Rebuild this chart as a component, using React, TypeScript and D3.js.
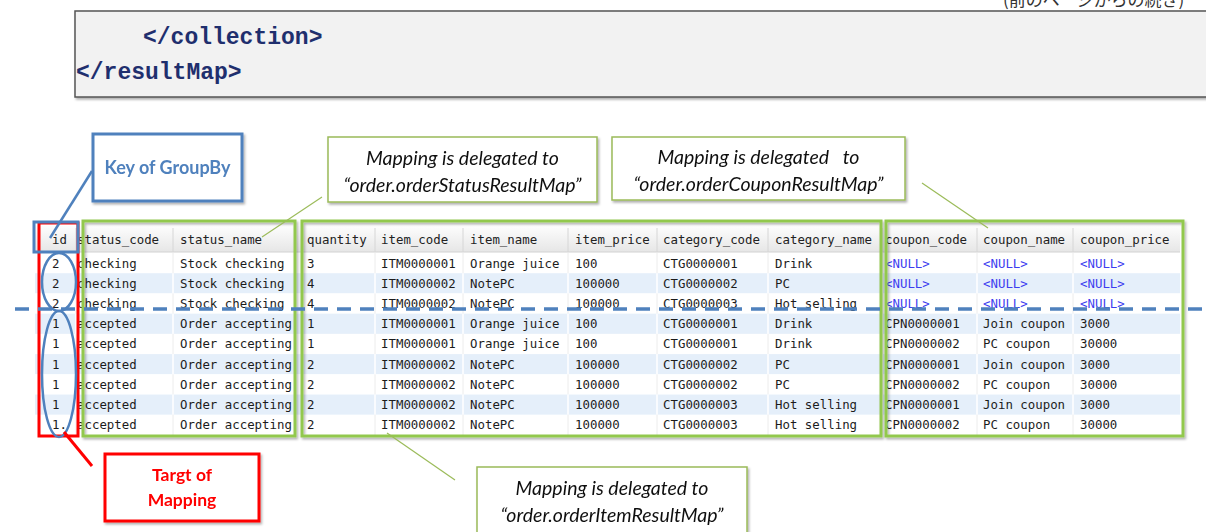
import React from 'react';
import * as d3 from 'd3';

// table columns and cell values, one array per column
const columns = ['id', 'status_code', 'status_name', 'quantity', 'item_code', 'item_name', 'item_price', 'category_code', 'category_name', 'coupon_code', 'coupon_name', 'coupon_price'];
const ids = ['2', '2', '2', '1', '1', '1', '1', '1', '1.'];
const statusCodes = ['checking', 'checking', 'checking', 'accepted', 'accepted', 'accepted', 'accepted', 'accepted', 'accepted'];
const statusNames = ['Stock checking', 'Stock checking', 'Stock checking', 'Order accepting', 'Order accepting', 'Order accepting', 'Order accepting', 'Order accepting', 'Order accepting'];
const quantities = ['3', '4', '4', '1', '1', '2', '2', '2', '2'];
const itemCodes = ['ITM0000001', 'ITM0000002', 'ITM0000002', 'ITM0000001', 'ITM0000001', 'ITM0000002', 'ITM0000002', 'ITM0000002', 'ITM0000002'];
const itemNames = ['Orange juice', 'NotePC', 'NotePC', 'Orange juice', 'Orange juice', 'NotePC', 'NotePC', 'NotePC', 'NotePC'];
const itemPrices = ['100', '100000', '100000', '100', '100', '100000', '100000', '100000', '100000'];
const categoryCodes = ['CTG0000001', 'CTG0000002', 'CTG0000003', 'CTG0000001', 'CTG0000001', 'CTG0000002', 'CTG0000002', 'CTG0000003', 'CTG0000003'];
const categoryNames = ['Drink', 'PC', 'Hot selling', 'Drink', 'Drink', 'PC', 'PC', 'Hot selling', 'Hot selling'];
const couponCodes = ['<NULL>', '<NULL>', '<NULL>', 'CPN0000001', 'CPN0000002', 'CPN0000001', 'CPN0000002', 'CPN0000001', 'CPN0000002'];
const couponNames = ['<NULL>', '<NULL>', '<NULL>', 'Join coupon', 'PC coupon', 'Join coupon', 'PC coupon', 'Join coupon', 'PC coupon'];
const couponPrices = ['<NULL>', '<NULL>', '<NULL>', '3000', '30000', '3000', '30000', '3000', '30000'];

const cells = [ids, statusCodes, statusNames, quantities, itemCodes, itemNames, itemPrices, categoryCodes, categoryNames, couponCodes, couponNames, couponPrices];

// layout of the table (pixel edges of each column)
const colEdges = [35, 76, 173, 302, 375, 463, 568, 657, 768, 882, 977, 1073, 1180];
const textX = [52, 77, 180, 307, 381, 470, 575, 663, 775, 885, 983, 1080];

const mono = '"DejaVu Sans Mono", "Liberation Mono", monospace';
const sans = 'Lato, "Open Sans", sans-serif';
const blue = '#4f81bd';
const green = '#92c84e';
const calloutGreen = '#9bbb59';

export default function App() {
  const W = 1206, H = 532;
  const headerTop = 226, headerBottom = 252;
  const y = d3.scaleBand<number>().domain(d3.range(ids.length)).range([headerBottom + 1, 435]);
  const rh = y.bandwidth();
  const xText = d3.scaleOrdinal<string, number>().domain(columns).range(textX);

  const callout = (x: number, yy: number, w: number, h: number, lines: string[], color: string, opts: any = {}) => (
    <g filter="url(#shadow)">
      <rect x={x} y={yy} width={w} height={h} fill="white" stroke={color} strokeWidth={opts.sw ?? 1.5} />
      {lines.map((t, i) => (
        <text key={i} x={x + w / 2} y={yy + opts.first + i * opts.lh} textAnchor="middle"
          fontFamily={sans} fontSize={opts.fs ?? 19.5} fontStyle={opts.italic ? 'italic' : 'normal'}
          fontWeight={opts.bold ? 700 : 400} fill={opts.fill ?? '#111'} style={{ whiteSpace: 'pre' }}>{t}</text>
      ))}
    </g>
  );

  return (
    <svg width={W} height={H} style={{ position: 'absolute', left: 0, top: 0, background: 'white' }}>
      <defs>
        <filter id="shadow" x="-10%" y="-10%" width="130%" height="140%">
          <feDropShadow dx="1.5" dy="2" stdDeviation="1.2" floodColor="#000" floodOpacity="0.3" />
        </filter>
        <linearGradient id="hdr" x1="0" x2="0" y1="0" y2="1">
          <stop offset="0" stopColor="#fdfdfd" />
          <stop offset="1" stopColor="#e6e6e6" />
        </linearGradient>
      </defs>

      {/* continuation note, clipped at the top */}
      <text x={1003} y={6} fontFamily='"Noto Sans CJK JP", sans-serif' fontSize={17} fill="#333">(前のページからの続き)</text>

      {/* code box */}
      <rect x={75} y={11} width={1200} height={86} fill="#f2f2f2" stroke="#555" strokeWidth={1.5} filter="url(#shadow)" />
      <text x={143} y={44} fontFamily='"Liberation Mono", "Courier New", monospace' fontWeight={700} fontSize={23} fill="#1f2f6e">{'</collection>'}</text>
      <text x={76} y={79} fontFamily='"Liberation Mono", "Courier New", monospace' fontWeight={700} fontSize={23} fill="#1f2f6e">{'</resultMap>'}</text>

      {/* table header */}
      <rect x={colEdges[0]} y={headerTop} width={colEdges[colEdges.length - 1] - colEdges[0]} height={headerBottom - headerTop} fill="url(#hdr)" />
      <line x1={colEdges[0]} x2={colEdges[colEdges.length - 1]} y1={headerBottom} y2={headerBottom} stroke="#d2d2d2" />
      {colEdges.slice(1, -1).map((cx, i) => (
        <line key={i} x1={cx} x2={cx} y1={headerTop + 2} y2={headerBottom} stroke="#d6d6d6" />
      ))}
      {columns.map(c => (
        <text key={c} x={xText(c)} y={244} fontFamily={mono} fontSize={12.4} fill="#222">{c}</text>
      ))}

      {/* table rows */}
      {ids.map((_, r) => {
        const odd = r % 2 === 1;
        const ry = y(r)!;
        return (
          <g key={r}>
            <rect x={colEdges[0]} y={ry} width={colEdges[colEdges.length - 1] - colEdges[0]} height={rh} fill={odd ? '#e5effa' : '#ffffff'} />
            {colEdges.slice(1, -1).map((cx, i) => (
              <line key={i} x1={cx} x2={cx} y1={ry} y2={ry + rh} stroke={odd ? '#ffffff' : '#ececec'} strokeWidth={odd ? 1.5 : 1} />
            ))}
            {columns.map((c, ci) => {
              const v = cells[ci][r];
              return (
                <text key={c} x={xText(c)} y={ry + 14.5} fontFamily={mono} fontSize={12.4}
                  fill={v === '<NULL>' ? '#3d3df0' : '#1c1c1c'}>{v}</text>
              );
            })}
          </g>
        );
      })}

      {/* green groups */}
      <rect x={83} y={221} width={212} height={215} fill="none" stroke={green} strokeWidth={3} filter="url(#shadow)" />
      <rect x={302} y={221} width={579} height={215} fill="none" stroke={green} strokeWidth={3} filter="url(#shadow)" />
      <rect x={886} y={221} width={297} height={215} fill="none" stroke={green} strokeWidth={3} filter="url(#shadow)" />

      {/* id column marks */}
      <rect x={39} y={223} width={39} height={213} fill="none" stroke="#ff0000" strokeWidth={3} />
      <rect x={34} y={222} width={44} height={30} fill="none" stroke={blue} strokeWidth={3} />
      <ellipse cx={59} cy={282} rx={17} ry={29} fill="none" stroke={blue} strokeWidth={2.5} />
      <ellipse cx={59} cy={374} rx={17} ry={63} fill="none" stroke={blue} strokeWidth={2.5} />
      <line x1={15} x2={1206} y1={309} y2={309} stroke={blue} strokeWidth={3.5} strokeDasharray="14 9" />

      {/* connectors */}
      <line x1={92} y1={171} x2={50} y2={238} stroke={blue} strokeWidth={2.5} />
      <line x1={322} y1={197} x2={262} y2={237} stroke={calloutGreen} strokeWidth={1.2} />
      <line x1={922} y1={183} x2={988} y2={228} stroke={calloutGreen} strokeWidth={1.2} />
      <line x1={387} y1={433} x2={455} y2={480} stroke={calloutGreen} strokeWidth={1.2} />
      <line x1={64} y1={432} x2={92} y2={466} stroke="#ff0000" strokeWidth={3} />

      {/* callouts */}
      {callout(93, 134, 149, 67, ['Key of GroupBy'], blue, { sw: 3, first: 40, lh: 0, fs: 18, bold: true, fill: blue })}
      {callout(328, 137, 269, 65, ['Mapping is delegated to', '\u201corder.orderStatusResultMap\u201d'], calloutGreen, { first: 28, lh: 27, italic: true })}
      {callout(612, 137, 293, 63, ['Mapping is delegated   to', '\u201corder.orderCouponResultMap\u201d'], calloutGreen, { first: 27, lh: 27, italic: true })}
      {callout(477, 467, 270, 80, ['Mapping is delegated to', '\u201corder.orderItemResultMap\u201d'], calloutGreen, { first: 28, lh: 27, italic: true })}
      {callout(105, 454, 154, 67, ['Targt of', 'Mapping'], '#ff0000', { sw: 3, first: 27, lh: 25, fs: 17.5, bold: true, fill: '#ff0000' })}
    </svg>
  );
}
